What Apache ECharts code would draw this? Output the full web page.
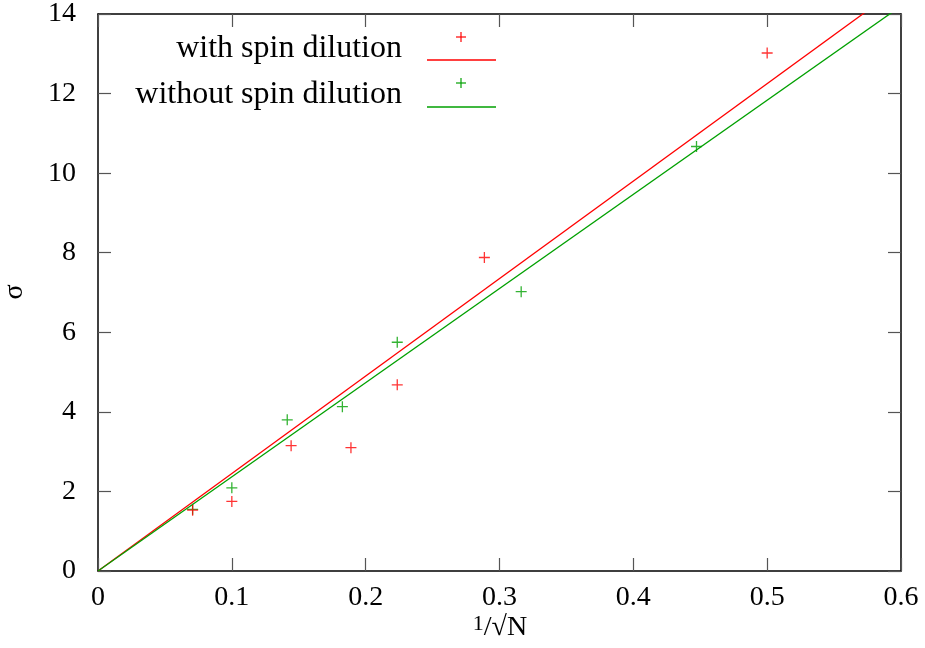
<!DOCTYPE html>
<html>
<head>
<meta charset="utf-8">
<script src="https://cdn.jsdelivr.net/npm/echarts@6/dist/echarts.min.js"></script>
<style>html,body{margin:0;padding:0;background:#fff}#c{width:925px;height:648px}</style>
</head>
<body>
<div id="c"></div>
<script>
const xTicks = [0, 0.1, 0.2, 0.3, 0.4, 0.5, 0.6];
const yTicks = [0, 2, 4, 6, 8, 10, 12, 14];
const xWith = [0.0707, 0.1, 0.1443, 0.189, 0.2236, 0.2887, 0.5];
const yWith = [1.53, 1.75, 3.15, 3.1, 4.68, 7.88, 13.02];
const xWithout = [0.0707, 0.1, 0.1414, 0.1826, 0.2236, 0.3162, 0.4472];
const yWithout = [1.55, 2.09, 3.8, 4.13, 5.75, 7.02, 10.67];
const fitWithX = [0, 0.6];
const fitWithY = [0, 14.7];
const fitWithoutX = [0, 0.6];
const fitWithoutY = [0, 14.2];
const labelWith = 'with spin dilution';
const labelWithout = 'without spin dilution';
const yName = 'σ';

const RED = '#ff0000', GREEN = '#00a000';
const FONT = 'Liberation Serif';
const zip = (a, b) => a.map((v, i) => [v, b[i]]);
const plus = 'path://M0,5L10,5M5,0L5,10';

const chart = echarts.init(document.getElementById('c'), null, {renderer: 'canvas'});
const axisCommon = {
  type: 'value',
  axisLine: {show: true, onZero: false, lineStyle: {color: '#000', width: 1.5}},
  axisTick: {show: true, inside: true, length: 13, lineStyle: {color: '#555', width: 1.2}},
  splitLine: {show: false}
};
const grid = {left: 98, right: 24, top: 12, bottom: 77, containLabel: false};
chart.setOption({
  animation: false,
  backgroundColor: '#fff',
  grid: grid,
  xAxis: [
    Object.assign({}, axisCommon, {position: 'bottom', min: xTicks[0], max: xTicks[xTicks.length-1], interval: 0.1,
      axisLabel: {show: true, margin: 13, fontFamily: FONT, fontSize: 28, color: '#000', formatter: v => String(Math.round(v*10)/10)}}),
    Object.assign({}, axisCommon, {position: 'top', min: xTicks[0], max: xTicks[xTicks.length-1], interval: 0.1,
      axisLabel: {show: false}})
  ],
  yAxis: [
    Object.assign({}, axisCommon, {position: 'left', min: yTicks[0], max: yTicks[yTicks.length-1], interval: 2,
      axisLabel: {show: true, margin: 22, fontFamily: FONT, fontSize: 28, color: '#000'}}),
    Object.assign({}, axisCommon, {position: 'right', min: yTicks[0], max: yTicks[yTicks.length-1], interval: 2,
      axisLabel: {show: false}})
  ],
  series: [
    {type: 'line', data: zip(fitWithX, fitWithY), showSymbol: false, symbol: 'none', clip: true,
      lineStyle: {color: RED, width: 1.3}, z: 2},
    {type: 'line', data: zip(fitWithoutX, fitWithoutY), showSymbol: false, symbol: 'none', clip: true,
      lineStyle: {color: GREEN, width: 1.3}, z: 2},
    {type: 'scatter', data: zip(xWithout, yWithout), symbol: plus, symbolSize: 11,
      itemStyle: {color: 'none', borderColor: GREEN, borderWidth: 1.3}, z: 3},
    {type: 'scatter', data: zip(xWith, yWith), symbol: plus, symbolSize: 11,
      itemStyle: {color: 'none', borderColor: RED, borderWidth: 1.3}, z: 3}
  ],
  graphic: [
    {type: 'text', x: 402, y: 49, style: {text: labelWith, font: '32px "' + FONT + '"', fill: '#000', align: 'right', verticalAlign: 'middle'}},
    {type: 'line', shape: {x1: 456, y1: 37, x2: 466, y2: 37}, style: {stroke: RED, lineWidth: 1.2}},
    {type: 'line', shape: {x1: 461, y1: 32, x2: 461, y2: 42}, style: {stroke: RED, lineWidth: 1.2}},
    {type: 'line', shape: {x1: 427, y1: 60, x2: 496, y2: 60}, style: {stroke: RED, lineWidth: 1.3}},
    {type: 'text', x: 402, y: 95, style: {text: labelWithout, font: '32px "' + FONT + '"', fill: '#000', align: 'right', verticalAlign: 'middle'}},
    {type: 'line', shape: {x1: 456, y1: 83, x2: 466, y2: 83}, style: {stroke: GREEN, lineWidth: 1.2}},
    {type: 'line', shape: {x1: 461, y1: 78, x2: 461, y2: 88}, style: {stroke: GREEN, lineWidth: 1.2}},
    {type: 'line', shape: {x1: 427, y1: 107, x2: 496, y2: 107}, style: {stroke: GREEN, lineWidth: 1.3}},
    {type: 'text', x: 15, y: 292, rotation: Math.PI/2, style: {text: yName, font: '28px "' + FONT + '"', fill: '#000', align: 'center', verticalAlign: 'middle'}},
    {type: 'text', x: 500, y: 628, style: {
      text: '{s|1}{n|/√N}', align: 'center', verticalAlign: 'middle',
      rich: {
        s: {fontFamily: FONT, fontSize: 22, fill: '#000', verticalAlign: 'top', padding: [0,0,8,0]},
        n: {fontFamily: FONT, fontSize: 28, fill: '#000'}
      }}}
  ]
});
</script>
</body>
</html>
